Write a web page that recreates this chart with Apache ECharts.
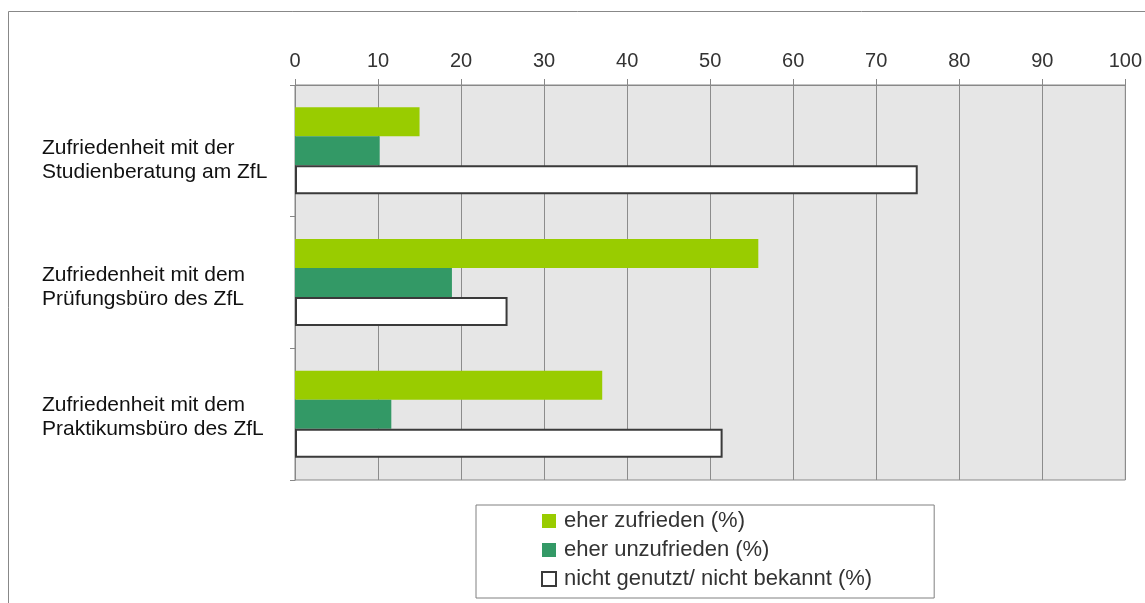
<!DOCTYPE html>
<html>
<head>
<meta charset="utf-8">
<script src="https://cdn.jsdelivr.net/npm/echarts@6/dist/echarts.min.js"></script>
<style>html,body{margin:0;padding:0;background:#fff}#c{width:1145px;height:603px}</style>
</head>
<body>
<div id="c"></div>
<script>
const categories = [
  'Zufriedenheit mit der\nStudienberatung am ZfL',
  'Zufriedenheit mit dem\nPrüfungsbüro des ZfL',
  'Zufriedenheit mit dem\nPraktikumsbüro des ZfL'
];
const seriesNames = ['eher zufrieden (%)', 'eher unzufrieden (%)', 'nicht genutzt/ nicht bekannt (%)'];
const eherZufrieden = [15, 55.8, 37];
const eherUnzufrieden = [10.2, 18.9, 11.6];
const nichtGenutzt = [75, 25.6, 51.5];
const xTicks = [0, 10, 20, 30, 40, 50, 60, 70, 80, 90, 100];

const font = 'Liberation Sans, Arial, sans-serif';
const chart = echarts.init(document.getElementById('c'), null, {renderer: 'canvas'});
chart.setOption({
  animation: false,
  textStyle: {fontFamily: font},
  graphic: [{
    type: 'rect', z: -10,
    shape: {x: 8.5, y: 11.5, width: 1300, height: 800},
    style: {fill: '#fff', stroke: '#888', lineWidth: 1}
  }],
  grid: {
    left: 295, right: 17, top: 85, bottom: 123,
    show: true, backgroundColor: '#e6e6e6', borderColor: '#888', borderWidth: 1
  },
  xAxis: {
    type: 'value', position: 'top', min: xTicks[0], max: xTicks[xTicks.length - 1], interval: 10,
    axisLine: {show: true, lineStyle: {color: '#888'}},
    axisTick: {show: true, length: 6, lineStyle: {color: '#888'}},
    axisLabel: {color: '#333', fontSize: 20, fontFamily: font, margin: 14},
    splitLine: {show: true, lineStyle: {color: '#8c8c8c', width: 1}}
  },
  yAxis: {
    type: 'category', data: categories, inverse: true,
    axisLine: {show: true, lineStyle: {color: '#888'}},
    axisTick: {show: true, length: 5, lineStyle: {color: '#888'}},
    axisLabel: {
      color: '#111', fontSize: 21, fontFamily: font, align: 'left', margin: 253, lineHeight: 24,
      formatter: function (v, i) {
        const lines = v.split('\n');
        return '{s' + i + '| }\n{t|' + lines[0] + '}\n{t|' + lines[1] + '}';
      },
      rich: {
        s0: {fontSize: 2, lineHeight: 18},
        s1: {fontSize: 2, lineHeight: 9},
        s2: {fontSize: 2, lineHeight: 7},
        t: {fontSize: 21, lineHeight: 24, color: '#111', fontFamily: font}
      }
    },
    splitLine: {show: false}
  },
  legend: {
    orient: 'vertical', left: 476, top: 505,
    data: seriesNames,
    backgroundColor: '#fff', borderColor: '#808080', borderWidth: 1,
    padding: [5, 62, 8, 65],
    itemWidth: 14, itemHeight: 14, itemGap: 7,
    icon: 'rect',
    textStyle: {color: '#333', fontSize: 22, fontFamily: font, lineHeight: 22, padding: [0, 0, 0, 3]}
  },
  series: [
    {name: seriesNames[0], type: 'bar', data: eherZufrieden, barWidth: 29, barGap: '0%',
     itemStyle: {color: '#99cc00'}},
    {name: seriesNames[1], type: 'bar', data: eherUnzufrieden, barWidth: 29, barGap: '0%',
     itemStyle: {color: '#339966'}},
    {name: seriesNames[2], type: 'bar', data: nichtGenutzt, barWidth: 29, barGap: '0%',
     itemStyle: {color: '#ffffff', borderColor: '#3a3a3a', borderWidth: 2}}
  ]
});
</script>
</body>
</html>
